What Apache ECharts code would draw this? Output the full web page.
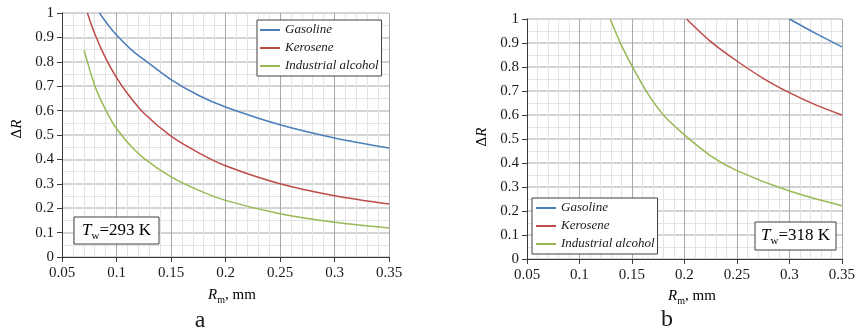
<!DOCTYPE html>
<html>
<head>
<meta charset="utf-8">
<script src="https://cdn.jsdelivr.net/npm/echarts@6/dist/echarts.min.js"></script>
<style>
html,body{margin:0;padding:0;background:#fff;}
#c{width:858px;height:334px;}
</style>
</head>
<body>
<div id="c"></div>
<script>
// ---- tick values ----
const xTicks = [0.05, 0.1, 0.15, 0.2, 0.25, 0.3, 0.35];
const yTicks = [0, 0.1, 0.2, 0.3, 0.4, 0.5, 0.6, 0.7, 0.8, 0.9, 1];
const seriesNames = ['Gasoline', 'Kerosene', 'Industrial alcohol'];
const panelTemps = ['293 K', '318 K'];
const panelLetters = ['a', 'b'];

// ---- panel a (Tw = 293 K) ----
const gasA_R = [0.0843, 0.0925, 0.1, 0.114, 0.125, 0.15, 0.175, 0.2, 0.25, 0.3, 0.35];
const gasA_V = [1.0, 0.95, 0.91, 0.848, 0.81, 0.727, 0.663, 0.615, 0.542, 0.488, 0.447];
const kerA_R = [0.0733, 0.08, 0.09, 0.1, 0.11, 0.125, 0.15, 0.175, 0.2, 0.25, 0.3, 0.35];
const kerA_V = [1.0, 0.915, 0.815, 0.735, 0.67, 0.59, 0.495, 0.428, 0.374, 0.3, 0.251, 0.217];
const alcA_R = [0.0702, 0.0733, 0.0766, 0.0803, 0.0849, 0.0904, 0.0965, 0.1, 0.11, 0.125, 0.15, 0.175, 0.2, 0.25, 0.3, 0.35];
const alcA_V = [0.848, 0.8, 0.75, 0.7, 0.65, 0.6, 0.55, 0.527, 0.47, 0.405, 0.328, 0.274, 0.232, 0.177, 0.142, 0.119];

// ---- panel b (Tw = 318 K) ----
const gasB_R = [0.30, 0.325, 0.35];
const gasB_V = [1.0, 0.94, 0.884];
const kerB_R = [0.202, 0.225, 0.25, 0.275, 0.3, 0.325, 0.35];
const kerB_V = [1.0, 0.906, 0.825, 0.753, 0.693, 0.642, 0.6];
const alcB_R = [0.1293, 0.14, 0.15, 0.165, 0.18, 0.2, 0.225, 0.25, 0.3, 0.35];
const alcB_V = [1.0, 0.89, 0.805, 0.69, 0.6, 0.517, 0.43, 0.368, 0.283, 0.222];

const colors = ['#4a7ebb', '#be4b48', '#98b954'];
const SERIF = '"Liberation Serif", "Times New Roman", serif';
const TXT = '#1a1a1a';

function pairs(rs, vs) { return rs.map((r, i) => [r, vs[i]]); }

const grids = [
  { left: 62, top: 13, width: 327, height: 244 },
  { left: 527, top: 19, width: 319, height: 240 }
];

function xAxis(gi) {
  return {
    type: 'value', gridIndex: gi,
    min: xTicks[0], max: xTicks[xTicks.length - 1], interval: 0.05,
    axisLine: { show: true, onZero: false, lineStyle: { color: '#3a3a3a', width: 1 } },
    axisTick: { show: true, length: 5, lineStyle: { color: '#3a3a3a' } },
    axisLabel: { fontFamily: SERIF, fontSize: 15, color: TXT, margin: 9 },
    splitLine: { show: true, lineStyle: { color: '#a8a8a8', width: 1 } },
    minorTick: { show: false, splitNumber: 5 },
    minorSplitLine: { show: true, lineStyle: { color: '#e3e3e3', width: 1 } }
  };
}
function yAxis(gi) {
  return {
    type: 'value', gridIndex: gi,
    min: yTicks[0], max: yTicks[yTicks.length - 1], interval: 0.1,
    axisLine: { show: true, lineStyle: { color: '#3a3a3a', width: 1 } },
    axisTick: { show: true, length: 5, lineStyle: { color: '#3a3a3a' } },
    axisLabel: { fontFamily: SERIF, fontSize: 15, color: TXT, margin: 8 },
    splitLine: { show: true, lineStyle: { color: '#c4c4c4', width: 1.5 } },
    minorTick: { show: false, splitNumber: 2 },
    minorSplitLine: { show: true, lineStyle: { color: '#e3e3e3', width: 1 } }
  };
}

function line(name, gi, data, ci) {
  return {
    name: name, type: 'line', xAxisIndex: gi, yAxisIndex: gi,
    data: data, symbol: 'none', smooth: 0.3, clip: true,
    lineStyle: { color: colors[ci], width: 1.5 }, itemStyle: { color: colors[ci] },
    emphasis: { disabled: true }, silent: true, animation: false
  };
}

const series = [
  line(seriesNames[0], 0, pairs(gasA_R, gasA_V), 0),
  line(seriesNames[1], 0, pairs(kerA_R, kerA_V), 1),
  line(seriesNames[2], 0, pairs(alcA_R, alcA_V), 2),
  line(seriesNames[0], 1, pairs(gasB_R, gasB_V), 0),
  line(seriesNames[1], 1, pairs(kerB_R, kerB_V), 1),
  line(seriesNames[2], 1, pairs(alcB_R, alcB_V), 2)
];

function legend(left, top, padL) {
  return {
    data: seriesNames, orient: 'vertical', left: left, top: top,
    padding: [1, 3, 1, padL], itemGap: 0, itemWidth: 20, itemHeight: 2,
    icon: 'rect',
    borderColor: '#404040', borderWidth: 1, backgroundColor: '#fff',
    selectedMode: false,
    textStyle: { fontFamily: SERIF, fontStyle: 'italic', fontSize: 13, color: TXT, lineHeight: 18 }
  };
}

const rich = {
  i: { fontFamily: SERIF, fontStyle: 'italic', fontSize: 15, color: TXT, lineHeight: 20 },
  n: { fontFamily: SERIF, fontSize: 15, color: TXT, lineHeight: 20 },
  s: { fontFamily: SERIF, fontSize: 10, color: TXT, lineHeight: 10, verticalAlign: 'bottom' }
};
const richBox = {
  i: { fontFamily: SERIF, fontStyle: 'italic', fontSize: 17, color: TXT, lineHeight: 22 },
  n: { fontFamily: SERIF, fontSize: 17, color: TXT, lineHeight: 22 },
  s: { fontFamily: SERIF, fontSize: 11, color: TXT, lineHeight: 11, verticalAlign: 'bottom' }
};

function tBox(x, y, w, h, label) {
  return [
    { type: 'rect', shape: { x: x, y: y, width: w, height: h }, z: 100,
      style: { fill: '#fff', stroke: '#404040', lineWidth: 1 } },
    { type: 'text', x: x + w / 2, y: y + h / 2, z: 101,
      style: { text: '{i|T}{s|w}{n|=' + label + '}', rich: richBox, align: 'center', verticalAlign: 'middle' } }
  ];
}

const graphics = [
  { type: 'text', x: 17, y: 129, rotation: Math.PI / 2,
    style: { text: '{n|Δ}{i|R}', rich: rich, align: 'center', verticalAlign: 'middle' } },
  { type: 'text', x: 482, y: 137, rotation: Math.PI / 2,
    style: { text: '{n|Δ}{i|R}', rich: rich, align: 'center', verticalAlign: 'middle' } },
  { type: 'text', x: 232, y: 295,
    style: { text: '{i|R}{s|m}{n|, mm}', rich: rich, align: 'center', verticalAlign: 'middle' } },
  { type: 'text', x: 692, y: 296,
    style: { text: '{i|R}{s|m}{n|, mm}', rich: rich, align: 'center', verticalAlign: 'middle' } },
  { type: 'text', x: 200, y: 321,
    style: { text: panelLetters[0], font: '24px ' + SERIF, fill: TXT, align: 'center', verticalAlign: 'middle' } },
  { type: 'text', x: 667, y: 320,
    style: { text: panelLetters[1], font: '24px ' + SERIF, fill: TXT, align: 'center', verticalAlign: 'middle' } }
].concat(tBox(74, 217, 85, 27, panelTemps[0]), tBox(755, 222, 81, 28, panelTemps[1]));

const chart = echarts.init(document.getElementById('c'), null, { renderer: 'canvas' });
chart.setOption({
  animation: false,
  backgroundColor: '#fff',
  grid: grids,
  xAxis: [xAxis(0), xAxis(1)],
  yAxis: [yAxis(0), yAxis(1)],
  legend: [legend(257, 20, 3), legend(532, 198, 4)],
  series: series,
  graphic: graphics
});
</script>
</body>
</html>
